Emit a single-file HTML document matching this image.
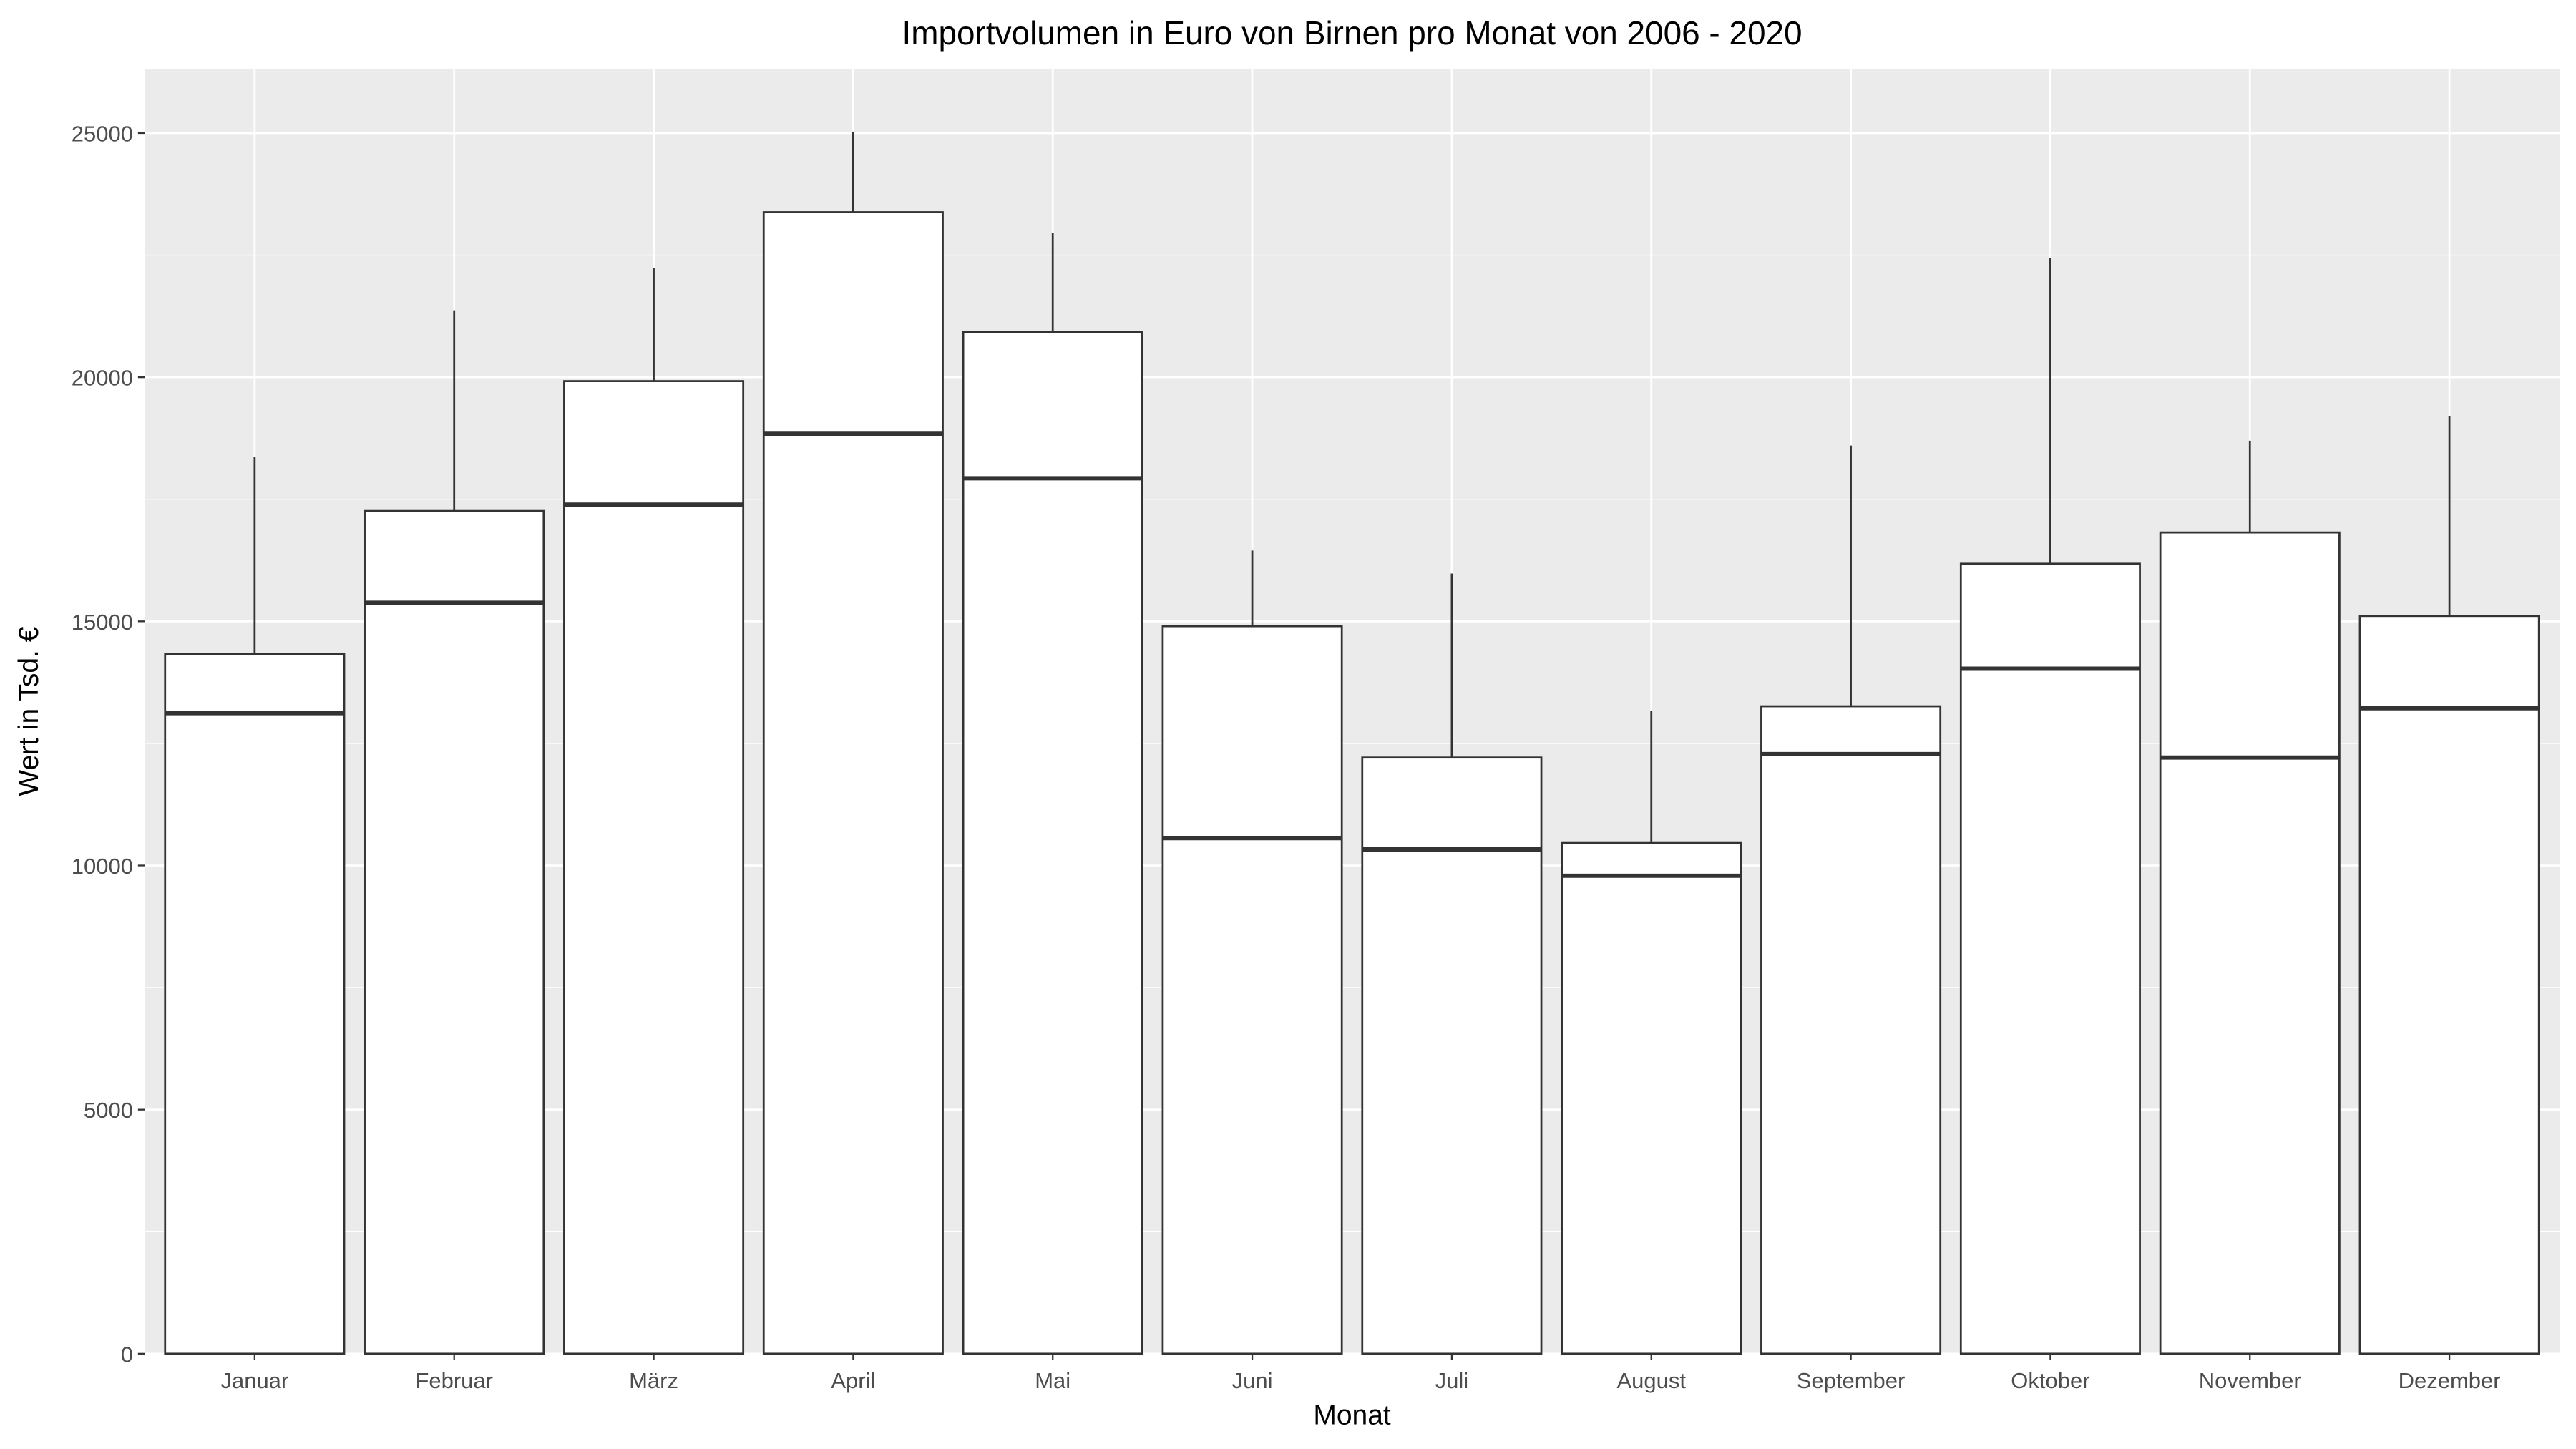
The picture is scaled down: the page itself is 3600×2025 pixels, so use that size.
<!DOCTYPE html>
<html><head><meta charset="utf-8"><style>
html,body{margin:0;padding:0;background:#fff;}
svg{display:block;font-family:"Liberation Sans",Arial,sans-serif;}
</style></head><body>
<svg id="chart" width="3600" height="2025" viewBox="0 0 1568 882" xmlns="http://www.w3.org/2000/svg">
<rect x="0" y="0" width="1568" height="882" fill="#fff"/>
<text x="823" y="27" text-anchor="middle" font-size="20" fill="#000">Importvolumen in Euro von Birnen pro Monat von 2006 - 2020</text>
<g id="plot"></g>
<text x="823" y="867" text-anchor="middle" font-size="17" fill="#000">Monat</text>
<text x="0" y="0" transform="translate(23,433) rotate(-90)" text-anchor="middle" font-size="17" fill="#000">Wert in Tsd. €</text>
</svg>
<script>
const categories = ["Januar","Februar","März","April","Mai","Juni","Juli","August","September","Oktober","November","Dezember"];
const q1Values = [0,0,0,0,0,0,0,0,0,0,0,0];
const q3Values = [14330,17260,19920,23380,20930,14900,12210,10460,13260,16180,16820,15110];
const medianValues = [13120,15380,17390,18840,17930,10560,10330,9790,12280,14030,12210,13220];
const upperWhisker = [18370,21370,22240,25030,22950,16450,15980,13160,18600,22440,18700,19210];
const yTicks = [0,5000,10000,15000,20000,25000];

const NS = "http://www.w3.org/2000/svg";
const g = document.getElementById('plot');
const px0 = 88, px1 = 1558, py0 = 42, py1 = 824;
const yZero = 824, yPer = (824-81)/25000;
function y(v){ return yZero - v*yPer; }
function x(i){ return 155 + i*121.45; }
function mk(tag, attrs){ const e=document.createElementNS(NS,tag); for(const k in attrs) e.setAttribute(k,attrs[k]); g.appendChild(e); return e; }

const panel = mk('rect',{x:px0,y:py0,width:px1-px0,height:py1-py0,fill:'#ebebeb'});


for(let v=2500; v<=27500; v+=5000){
  if(y(v)<py0) continue;
  const l = mk('line',{x1:px0,x2:px1,y1:y(v),y2:y(v),stroke:'#fff','stroke-width':0.6});
  
  
}
yTicks.forEach(v=>{
  const l = mk('line',{x1:px0,x2:px1,y1:y(v),y2:y(v),stroke:'#fff','stroke-width':1.2});
  
  
  const t = mk('line',{x1:px0-4,x2:px0,y1:y(v),y2:y(v),stroke:'#333','stroke-width':1});
  
  
  const tx = mk('text',{x:px0-7,y:y(v)+5,'text-anchor':'end','font-size':13.5,fill:'#4d4d4d'});
  tx.textContent = v;
  
  
});
categories.forEach((c,i)=>{
  const l = mk('line',{x1:x(i),x2:x(i),y1:py0,y2:py1,stroke:'#fff','stroke-width':1.2});
  
  
});
const bw = 109;
categories.forEach((c,i)=>{
  const w = mk('line',{x1:x(i),x2:x(i),y1:y(upperWhisker[i]),y2:y(q3Values[i]),stroke:'#333','stroke-width':1.2});
  
  
  const b = mk('rect',{x:x(i)-bw/2,y:y(q3Values[i]),width:bw,height:y(q1Values[i])-y(q3Values[i]),fill:'#fff',stroke:'#333','stroke-width':1.2});
  
  
  const m = mk('line',{x1:x(i)-bw/2,x2:x(i)+bw/2,y1:y(medianValues[i]),y2:y(medianValues[i]),stroke:'#333','stroke-width':2.6});
  
  
  const t = mk('line',{x1:x(i),x2:x(i),y1:yZero,y2:yZero+4,stroke:'#333','stroke-width':1});
  
  
  const tx = mk('text',{x:x(i),y:845,'text-anchor':'middle','font-size':13.5,fill:'#4d4d4d'});
  tx.textContent = c;
  
  
});
</script>
</body></html>
